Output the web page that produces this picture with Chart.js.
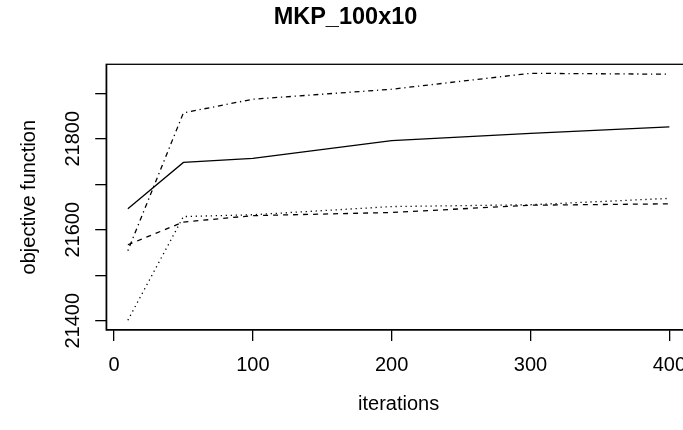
<!DOCTYPE html>
<html>
<head>
<meta charset="utf-8">
<script src="https://cdn.jsdelivr.net/npm/chart.js@4/dist/chart.umd.min.js"></script>
<style>
html, body { margin: 0; padding: 0; overflow: hidden; background: #fff; width: 683px; height: 430px; }
canvas { display: block; }
</style>
</head>
<body>
<canvas id="c" width="700" height="430" style="width:700px;height:430px"></canvas>
<script>
// ---- data ----
const iterations = [10, 50, 100, 200, 300, 400];
const seriesSolid   = [21646, 21748, 21757, 21796, 21812, 21826];
const seriesDashed  = [21567, 21617, 21631, 21638, 21654, 21657];
const seriesDotted  = [21401, 21629, 21633, 21651, 21655, 21669];
const seriesDotDash = [21554, 21857, 21887, 21909, 21944, 21942];

const xTickValues = [0, 100, 200, 300, 400];
const xTickLabels = ['0', '100', '200', '300', '400'];
const yTickValues = [21400, 21500, 21600, 21700, 21800, 21900];
const yTickLabels = ['21400', '', '21600', '', '21800', ''];

const chartTitle = 'MKP_100x10';
const xTitle = 'iterations';
const yTitle = 'objective function';

const FONT = "'Liberation Sans', Arial, Helvetica, sans-serif";
const LW = 1.3;

function pts(vals) { return iterations.map((x, i) => ({ x: x, y: vals[i] })); }
function ds(vals, dash) {
  return {
    data: pts(vals),
    borderColor: '#000',
    borderWidth: LW,
    borderDash: dash,
    borderCapStyle: 'butt',
    pointRadius: 0,
    tension: 0,
    fill: false
  };
}

const boxPlugin = {
  id: 'box',
  beforeDatasetsDraw(chart) {
    const a = chart.chartArea, ctx = chart.ctx;
    ctx.save();
    ctx.strokeStyle = '#000';
    ctx.lineWidth = LW;
    ctx.strokeRect(a.left, a.top, a.right - a.left, a.bottom - a.top);
    ctx.restore();
  }
};

new Chart(document.getElementById('c'), {
  type: 'line',
  data: {
    datasets: [
      ds(seriesSolid, []),
      ds(seriesDashed, [5, 5]),
      ds(seriesDotted, [1.25, 3.75]),
      ds(seriesDotDash, [1.25, 3.75, 5, 3.75])
    ]
  },
  options: {
    responsive: false,
    animation: false,
    devicePixelRatio: 1,
    layout: { padding: { top: 0, left: 0, right: 9, bottom: 0 } },
    plugins: {
      legend: { display: false },
      tooltip: { enabled: false },
      title: {
        display: true,
        text: chartTitle,
        color: '#000',
        font: { family: FONT, size: 23.5, weight: 'bold', lineHeight: 1.2 },
        padding: { top: 3, bottom: 33.1 }
      }
    },
    scales: {
      x: {
        type: 'linear',
        min: -5.6,
        max: 415.6,
        afterBuildTicks(s) { s.ticks = xTickValues.map(v => ({ value: v })); },
        afterFit(s) { s.height = 100; },
        ticks: {
          autoSkip: false,
          maxRotation: 0,
          minRotation: 0,
          padding: 12,
          color: '#000',
          font: { family: FONT, size: 20, lineHeight: 1.2 },
          callback(v) { const i = xTickValues.indexOf(v); return i >= 0 ? xTickLabels[i] : ''; }
        },
        grid: { drawOnChartArea: false, drawTicks: true, tickLength: 11, color: '#000', lineWidth: LW },
        border: { display: true, color: '#000', width: LW },
        title: {
          display: true,
          text: xTitle,
          color: '#000',
          font: { family: FONT, size: 20, lineHeight: 1.2 },
          padding: { top: 0, bottom: 14 }
        }
      },
      y: {
        type: 'linear',
        min: 21379.6,
        max: 21963.8,
        afterBuildTicks(s) { s.ticks = yTickValues.map(v => ({ value: v })); },
        afterFit(s) { s.width = 106.2; },
        ticks: {
          autoSkip: false,
          minRotation: 90,
          maxRotation: 90,
          crossAlign: 'center',
          padding: -5.7,
          color: '#000',
          font: { family: FONT, size: 20, lineHeight: 1.2 },
          callback(v) { const i = yTickValues.indexOf(v); return i >= 0 ? yTickLabels[i] : ''; }
        },
        grid: { drawOnChartArea: false, drawTicks: true, tickLength: 11, color: '#000', lineWidth: LW },
        border: { display: true, color: '#000', width: LW },
        title: {
          display: true,
          text: yTitle,
          color: '#000',
          font: { family: FONT, size: 20, lineHeight: 1.2 },
          padding: { top: 17.7, bottom: 0 }
        }
      }
    }
  },
  plugins: [boxPlugin]
});
</script>
</body>
</html>
